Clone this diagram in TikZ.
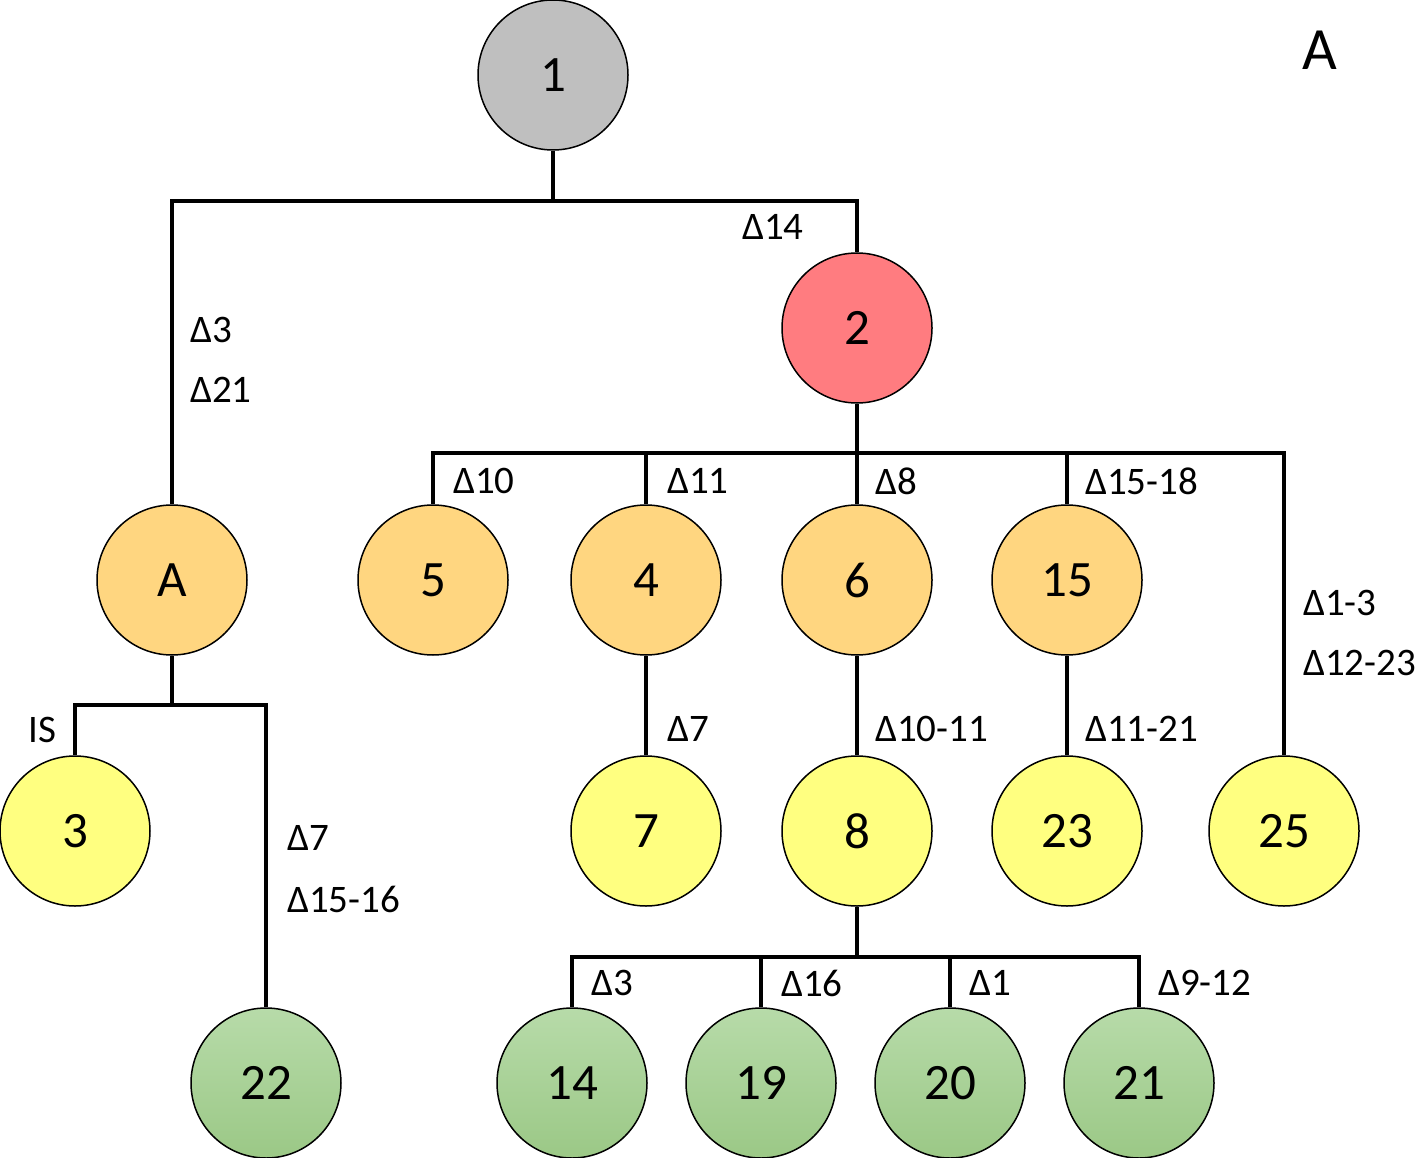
\documentclass[tikz,border=0pt]{standalone}
\usepackage{fontspec}
\setmainfont{Carlito}
\definecolor{cgray}{HTML}{BFBFBF}
\definecolor{cred}{HTML}{FF7C80}
\definecolor{corange}{HTML}{FFD680}
\definecolor{cyellow}{HTML}{FFFF80}
\definecolor{cgreentop}{HTML}{B7DBA9}
\definecolor{cgreenbot}{HTML}{9BC886}
\tikzset{
  circ/.style={circle, draw=black, line width=1.5pt, minimum size=150pt, inner sep=0pt,
    font=\fontsize{51}{60}\selectfont},
  grayc/.style={circ, fill=cgray},
  redc/.style={circ, fill=cred},
  orangec/.style={circ, fill=corange},
  yellowc/.style={circ, fill=cyellow},
  greenc/.style={circ, top color=cgreentop, bottom color=cgreenbot},
  conn/.style={line width=3.8pt, line join=miter},
  lbl/.style={anchor=west, inner sep=0pt, font=\fontsize{39}{46}\selectfont}
}
\begin{document}
\begin{tikzpicture}[x=1pt,y=-1pt]
\useasboundingbox (0,0) rectangle (1418,1158);
\coordinate (j1) at (553,201);
\coordinate (j2) at (857,453);
\coordinate (jA) at (172,705);
\coordinate (j8) at (857,957);

% nodes
\node[grayc] (n1) at (553,75) {1};
\node[redc] (n2) at (857,328) {2};
\node[orangec] (nA) at (172,580) {A};
\node[orangec] (n5) at (433,580) {5};
\node[orangec] (n4) at (646,580) {4};
\node[orangec] (n6) at (857,580) {6};
\node[orangec] (n15) at (1067,580) {15};
\node[yellowc] (n3) at (75,831) {3};
\node[yellowc] (n7) at (646,831) {7};
\node[yellowc] (n8) at (857,831) {8};
\node[yellowc] (n23) at (1067,831) {23};
\node[yellowc] (n25) at (1284,831) {25};
\node[greenc] (n22) at (266,1083) {22};
\node[greenc] (n14) at (572,1083) {14};
\node[greenc] (n19) at (761,1083) {19};
\node[greenc] (n20) at (950,1083) {20};
\node[greenc] (n21) at (1139,1083) {21};

\draw[conn] (n1.south) -- (j1);
\draw[conn] (j1) -| (nA.north);
\draw[conn] (j1) -| (n2.north);

\draw[conn] (n2.south) -- (j2);
\draw[conn] (j2) -| (n5.north);
\draw[conn] (j2) -| (n25.north);
\draw[conn] (n4.north) -- (n4.north |- j2);
\draw[conn] (n6.north) -- (j2);
\draw[conn] (n15.north) -- (n15.north |- j2);

\draw[conn] (n4.south) -- (n7.north);
\draw[conn] (n6.south) -- (n8.north);
\draw[conn] (n15.south) -- (n23.north);

\draw[conn] (nA.south) -- (jA);
\draw[conn] (jA) -| (n3.north);
\draw[conn] (jA) -| (n22.north);

\draw[conn] (n8.south) -- (j8);
\draw[conn] (j8) -| (n14.north);
\draw[conn] (j8) -| (n21.north);
\draw[conn] (n19.north) -- (n19.north |- j8);
\draw[conn] (n20.north) -- (n20.north |- j8);

% labels
\node[lbl] (l14) at (742,227) {Δ14};
\node[lbl] (lA1) at (190,330) {Δ3};
\node[lbl] (lA2) at (190,390) {Δ21};
\node[lbl] (l10) at (453,481) {Δ10};
\node[lbl] (l11) at (667,481) {Δ11};
\node[lbl] (l8) at (875,481) {Δ8};
\node[lbl] (l1518) at (1085,481) {Δ15-18};
\node[lbl] (l13) at (1303,603) {Δ1-3};
\node[lbl] (l1223) at (1303,663) {Δ12-23};
\node[lbl] (lIS) at (28,730) {IS};
\node[lbl] (l7) at (667,729) {Δ7};
\node[lbl] (l1011) at (875,729) {Δ10-11};
\node[lbl] (l1121) at (1085,729) {Δ11-21};
\node[lbl] (l7b) at (287,838) {Δ7};
\node[lbl] (l1516) at (287,899) {Δ15-16};
\node[lbl] (l3b) at (591,983) {Δ3};
\node[lbl] (l16) at (781,983) {Δ16};
\node[lbl] (l1) at (969,983) {Δ1};
\node[lbl] (l912) at (1158,983) {Δ9-12};
\node[anchor=center, inner sep=0pt, font=\fontsize{60}{72}\selectfont] (title) at (1320,50) {A};
\end{tikzpicture}
\end{document}
